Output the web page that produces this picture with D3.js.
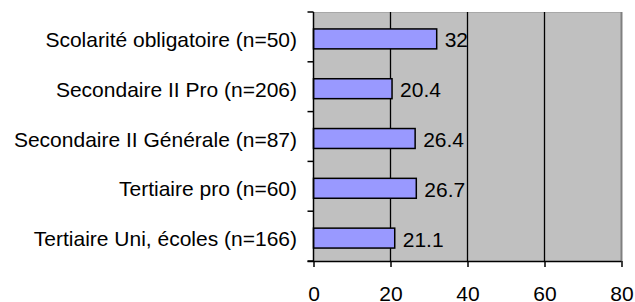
<!DOCTYPE html>
<html>
<head>
	<meta charset="utf-8">
	<script src="https://cdn.jsdelivr.net/npm/d3@7"></script>
	<style>
		body { margin: 0; background: white; }
		text { font-family: "Liberation Sans", Arial, sans-serif; fill: black; }
	</style>
</head>
<body>
	<div id="chart"></div>
	<script>
		var categories = ["Scolarité obligatoire (n=50)", "Secondaire II Pro (n=206)",
			"Secondaire II Générale (n=87)", "Tertiaire pro (n=60)", "Tertiaire Uni, écoles (n=166)"];
		var values = [32, 20.4, 26.4, 26.7, 21.1];
		var xTicks = [0, 20, 40, 60, 80];

		var pLeft = 313.5, pRight = 621.5, pTop = 12, pBottom = 261;
		var fontSize = "21px";

		var svg = d3.select("#chart").append("svg")
			.attr("width", 635)
			.attr("height", 302);

		var x = d3.scaleLinear().domain([0, 80]).range([pLeft, pRight]);
		var y = d3.scaleBand().domain(categories).range([pTop, pBottom])
			.paddingInner(0.6).paddingOuter(0.3);

		// plot background
		svg.append("rect")
			.attr("x", pLeft).attr("y", pTop)
			.attr("width", pRight - pLeft).attr("height", pBottom - pTop)
			.attr("fill", "#c0c0c0");

		// top edge + right border
		svg.append("line")
			.attr("x1", pLeft).attr("x2", pRight).attr("y1", pTop + 0.5).attr("y2", pTop + 0.5)
			.attr("stroke", "#a8a8a8");
		svg.append("line")
			.attr("x1", pRight).attr("x2", pRight).attr("y1", pTop).attr("y2", pBottom)
			.attr("stroke", "#808080").attr("stroke-width", 2);

		// gridlines
		svg.selectAll(".grid")
			.data(xTicks.slice(1, -1))
			.enter().append("line")
			.attr("x1", function(d) { return x(d); })
			.attr("x2", function(d) { return x(d); })
			.attr("y1", pTop).attr("y2", pBottom)
			.attr("stroke", "black").attr("stroke-width", 1.3);

		// bars
		svg.selectAll(".bar")
			.data(values)
			.enter().append("rect")
			.attr("x", x(0))
			.attr("y", function(d, i) { return y(categories[i]) + 2; })
			.attr("width", function(d) { return x(d) - x(0); })
			.attr("height", y.bandwidth())
			.attr("fill", "#9999ff")
			.attr("stroke", "black")
			.attr("stroke-width", 1.5);

		// value labels
		svg.selectAll(".val")
			.data(values)
			.enter().append("text")
			.attr("x", function(d) { return x(d) + 8; })
			.attr("y", function(d, i) { return y(categories[i]) + y.bandwidth() / 2 + 10.5; })
			.attr("font-size", fontSize)
			.text(function(d) { return d; });

		// x axis
		var xAxis = svg.append("g")
			.attr("transform", "translate(0," + pBottom + ")")
			.call(d3.axisBottom(x).tickValues(xTicks).tickSize(6).tickSizeOuter(0));
		xAxis.select(".domain").attr("stroke", "black").attr("stroke-width", 1.5)
			.attr("d", "M" + (pLeft - 6) + ",0.5H" + pRight);
		xAxis.selectAll(".tick line").attr("stroke-width", 1.5);
		xAxis.selectAll(".tick text")
			.attr("font-size", fontSize)
			.attr("font-family", "Liberation Sans, Arial, sans-serif")
			.attr("dy", null).attr("y", 40);

		// y axis line + ticks at band edges
		svg.append("line")
			.attr("x1", pLeft).attr("x2", pLeft).attr("y1", pTop).attr("y2", pBottom)
			.attr("stroke", "black").attr("stroke-width", 1.5);
		svg.selectAll(".ytick")
			.data(d3.range(categories.length + 1))
			.enter().append("line")
			.attr("x1", pLeft - 6).attr("x2", pLeft)
			.attr("y1", function(i) { return pTop + i * (pBottom - pTop) / categories.length; })
			.attr("y2", function(i) { return pTop + i * (pBottom - pTop) / categories.length; })
			.attr("stroke", "black").attr("stroke-width", 1.5);

		// category labels
		svg.selectAll(".cat")
			.data(categories)
			.enter().append("text")
			.attr("x", 297)
			.attr("y", function(d) { return y(d) + y.bandwidth() / 2 + 10; })
			.attr("text-anchor", "end")
			.attr("font-size", fontSize)
			.text(function(d) { return d; });
	</script>
</body>
</html>
